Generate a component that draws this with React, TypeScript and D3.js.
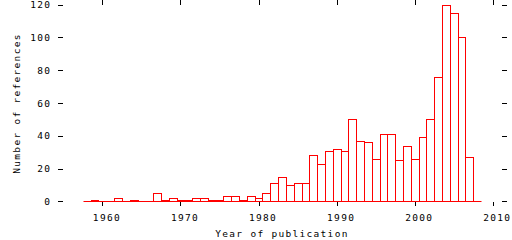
import React from "react";
import * as d3 from "d3";

const years = [
  1958, 1959, 1960, 1961, 1962, 1963, 1964, 1965, 1966, 1967, 1968, 1969,
  1970, 1971, 1972, 1973, 1974, 1975, 1976, 1977, 1978, 1979,
  1980, 1981, 1982, 1983, 1984, 1985, 1986, 1987, 1988, 1989,
  1990, 1991, 1992, 1993, 1994, 1995, 1996, 1997, 1998, 1999,
  2000, 2001, 2002, 2003, 2004, 2005, 2006, 2007, 2008,
];
const counts = [
  0, 1, 0, 0, 2, 0, 1, 0, 0, 5, 1, 2,
  1, 1, 2, 2, 1, 1, 3, 3, 1, 3,
  2, 5, 11, 15, 10, 11, 11, 28, 23, 31,
  32, 31, 50, 37, 36, 26, 41, 41, 25, 34,
  26, 39, 50, 76, 120, 115, 100, 27, 0,
];
const xTicks = [1960, 1970, 1980, 1990, 2000, 2010];
const yTicks = [0, 20, 40, 60, 80, 100, 120];
const xLabel = "Year of publication";
const yLabel = "Number of references";

const W = 512;
const H = 240;
const font = "'DejaVu Sans Mono', monospace";
const fs = 9.5;
const ls = 1.3;

export default function App() {
  const x = d3.scaleLinear().domain([1960, 2010]).range([102.4, 492.8]);
  const y = d3.scaleLinear().domain([0, 120]).range([201.3, 4.7]);
  const px = (v: number) => Math.round(v) + 0.5;
  const y0 = px(y(0));
  const red = "#ff0000";

  return (
    <svg
      width={W}
      height={H}
      style={{ position: "absolute", left: 0, top: 0, background: "#fff" }}
    >
      <rect x={0} y={0} width={W} height={H} fill="#fff" />
      {/* y ticks */}
      {yTicks.map((t) => (
        <g key={"y" + t}>
          <line x1={58} x2={63} y1={px(y(t))} y2={px(y(t))} stroke="#000" />
          <line x1={502} x2={507} y1={px(y(t))} y2={px(y(t))} stroke="#000" />
          <text
            x={50 + ls}
            y={y(t) + 3.5}
            textAnchor="end"
            fontFamily={font}
            fontSize={fs}
            letterSpacing={ls}
          >
            {t}
          </text>
        </g>
      ))}
      {/* x ticks */}
      {xTicks.map((t) => (
        <g key={"x" + t}>
          <line x1={px(x(t))} x2={px(x(t))} y1={202} y2={206} stroke="#000" />
          <line x1={px(x(t))} x2={px(x(t))} y1={0} y2={5} stroke="#000" />
          <text
            x={x(t) + 4.5}
            y={221}
            textAnchor="middle"
            fontFamily={font}
            fontSize={fs}
            letterSpacing={ls}
          >
            {t}
          </text>
        </g>
      ))}
      {/* bars */}
      {years.map((yr, i) =>
        counts[i] > 0 ? (
          <rect
            key={yr}
            x={px(x(yr - 0.5))}
            y={px(y(counts[i]))}
            width={px(x(yr + 0.5)) - px(x(yr - 0.5))}
            height={y0 - px(y(counts[i]))}
            fill="none"
            stroke={red}
            strokeWidth={1}
          />
        ) : null
      )}
      <line
        x1={px(x(years[0] - 0.5))}
        x2={px(x(years[years.length - 1] + 0.5))}
        y1={y0}
        y2={y0}
        stroke={red}
      />
      <text
        x={282}
        y={236.5}
        textAnchor="middle"
        fontFamily={font}
        fontSize={fs}
        letterSpacing={ls}
      >
        {xLabel}
      </text>
      <text
        transform={`translate(20,103.5) rotate(-90)`}
        textAnchor="middle"
        fontFamily={font}
        fontSize={fs}
        letterSpacing={ls}
      >
        {yLabel}
      </text>
    </svg>
  );
}
